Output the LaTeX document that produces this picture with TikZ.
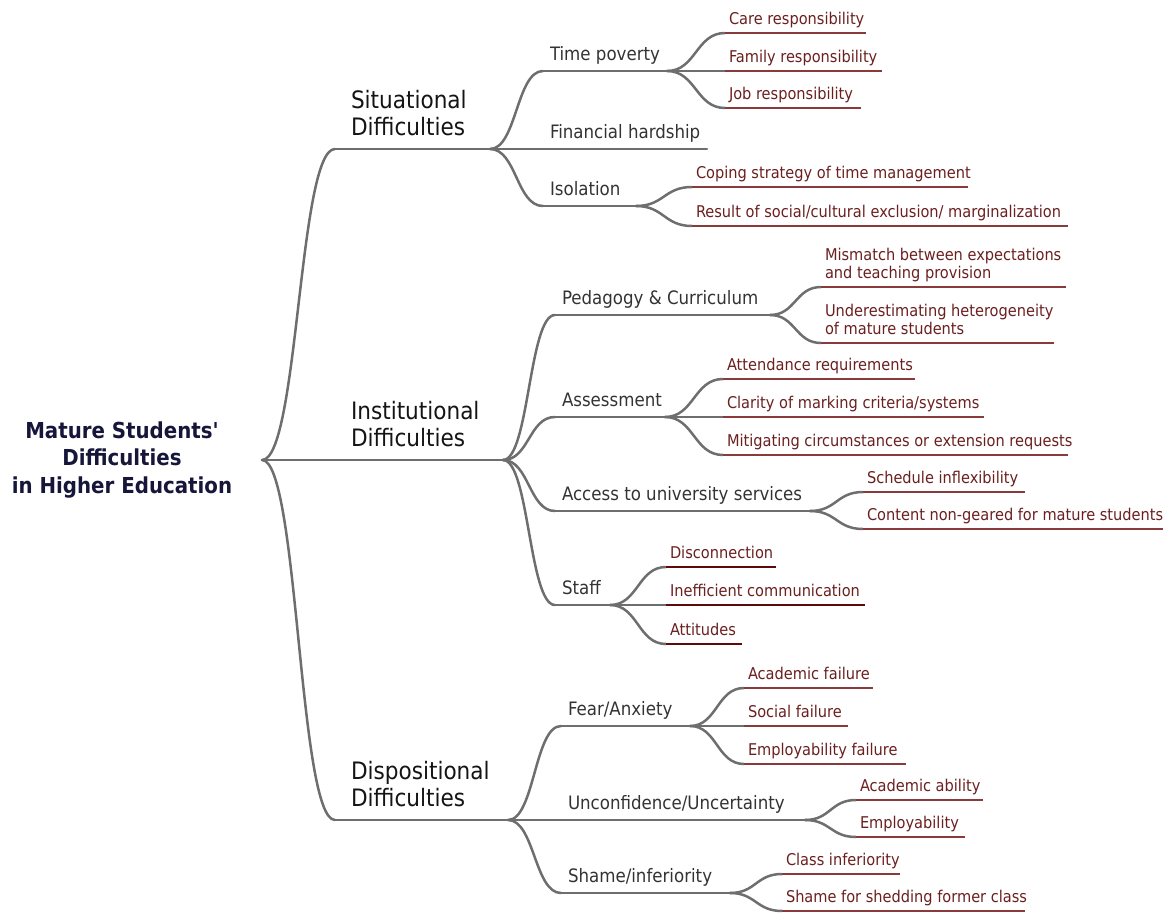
\documentclass[tikz,border=0pt]{standalone}
\usepackage{fontspec}
\setmainfont{DejaVu Sans Condensed}
\usetikzlibrary{calc}
\definecolor{linegray}{HTML}{6E6E6E}
\definecolor{leafred}{HTML}{6B1F1F}
\definecolor{ulred}{HTML}{8A3A3A}
\definecolor{staffred}{HTML}{5C0A0A}
\definecolor{roottext}{HTML}{16163A}
\definecolor{subtext}{HTML}{333333}
\definecolor{maintext}{HTML}{141414}
\tikzset{
  topicbase/.style={anchor=south west, inner xsep=0pt, text depth=4pt, outer sep=0pt},
  leaf/.style={topicbase, inner ysep=5pt, font=\fontsize{16.2}{18}\selectfont, text=leafred},
  sub/.style={topicbase, inner ysep=7pt, font=\fontsize{18.5}{21}\selectfont, text=subtext},
  mainb/.style={topicbase, inner ysep=9pt, text depth=5pt, font=\fontsize{24}{27}\selectfont, text=maintext},
  rootn/.style={align=center, font=\bfseries\fontsize{22}{27.5}\selectfont, text=roottext, inner sep=0pt},
  conn/.style={draw=linegray, line width=2.5pt, line cap=round},
  ulgray/.style={draw=linegray, line width=2.5pt, line cap=round},
  ulleaf/.style={draw=ulred, line width=1.2pt},
  ulstaff/.style={draw=staffred, line width=2.7pt},
}
% style, name, x start, x end, y, left pad, text
\newcommand\topic[7]{%
  \pgfmathsetmacro\tw{#4-#3}%
  \node[#1] (#2) at (#3,#5) {\makebox[\tw pt][l]{\hspace*{#6pt}#7}};%
}
\newcommand\twol[2]{\begin{tabular}[b]{@{}l@{}}#1\\#2\end{tabular}}
\newcommand\link[2]{\draw[conn] let \p1=(#1), \p2=(#2) in
  (\p1) .. controls (\x1/2+\x2/2,\y1) and (\x1/2+\x2/2,\y2) .. (\p2);}
\newcommand\uline[2]{\draw[#1] (#2.south west) -- (#2.south east);}
\begin{document}
\begin{tikzpicture}[x=1pt,y=-1pt]
\useasboundingbox (0,0) rectangle (1168,913);
% root
\node[rootn] (root) at (122,460) {Mature Students\textquotesingle\\Difficulties\\in Higher Education};
\coordinate (rootc) at (262,460);
% main branches
\topic{mainb}{S}{335}{490}{149}{16}{\twol{Situational}{Difficulties}}
\topic{mainb}{I}{335}{503}{460}{16}{\twol{Institutional}{Difficulties}}
\topic{mainb}{D}{335}{508}{820}{16}{\twol{Dispositional}{Difficulties}}
% situational
\topic{sub}{TP}{543}{667}{71}{7}{Time poverty}
\topic{sub}{FH}{543}{707}{149}{7}{Financial hardship}
\topic{sub}{Iso}{543}{636}{206}{7}{Isolation}
\topic{leaf}{Care}{725}{866}{33}{4}{Care responsibility}
\topic{leaf}{Fam}{725}{882}{71}{4}{Family responsibility}
\topic{leaf}{Job}{725}{861}{108}{4}{Job responsibility}
\topic{leaf}{Cop}{692}{968}{187}{4}{Coping strategy of time management}
\topic{leaf}{Res}{692}{1068}{226}{4}{Result of social/cultural exclusion/ marginalization}
% institutional
\topic{sub}{Ped}{555}{770}{315}{7}{Pedagogy \& Curriculum}
\topic{sub}{Ass}{555}{665}{417}{7}{Assessment}
\topic{sub}{Acc}{555}{810}{511}{7}{Access to university services}
\topic{sub}{Stf}{555}{610}{605}{7}{Staff}
\topic{leaf}{Mis}{821}{1066}{287}{4}{\twol{Mismatch between expectations}{and teaching provision}}
\topic{leaf}{Und}{821}{1054}{343}{4}{\twol{Underestimating heterogeneity}{of mature students}}
\topic{leaf}{Att}{723}{915}{379}{4}{Attendance requirements}
\topic{leaf}{Cla}{723}{984}{417}{4}{Clarity of marking criteria/systems}
\topic{leaf}{Mit}{723}{1068}{455}{4}{Mitigating circumstances or extension requests}
\topic{leaf}{Sch}{863}{1025}{492}{4}{Schedule inflexibility}
\topic{leaf}{Con}{863}{1163}{529}{4}{Content non-geared for mature students}
\topic{leaf}{Dis}{666}{776}{567}{4}{Disconnection}
\topic{leaf}{Ine}{666}{865}{605}{4}{Inefficient communication}
\topic{leaf}{Atd}{666}{742}{644}{4}{Attitudes}
% dispositional
\topic{sub}{Fea}{561}{690}{726}{7}{Fear/Anxiety}
\topic{sub}{Unc}{561}{805}{820}{7}{Unconfidence/Uncertainty}
\topic{sub}{Sha}{561}{730}{893}{7}{Shame/inferiority}
\topic{leaf}{AcF}{744}{873}{688}{4}{Academic failure}
\topic{leaf}{SoF}{744}{848}{726}{4}{Social failure}
\topic{leaf}{EmF}{744}{906}{764}{4}{Employability failure}
\topic{leaf}{AcA}{856}{983}{800}{4}{Academic ability}
\topic{leaf}{Emp}{856}{965}{837}{4}{Employability}
\topic{leaf}{Cls}{782}{900}{874}{4}{Class inferiority}
\topic{leaf}{She}{782}{1025}{911}{4}{Shame for shedding former class}
% connectors
\link{rootc}{S.south west}
\link{rootc}{I.south west}
\link{rootc}{D.south west}
\link{S.south east}{TP.south west}
\link{S.south east}{FH.south west}
\link{S.south east}{Iso.south west}
\link{TP.south east}{Care.south west}
\link{TP.south east}{Fam.south west}
\link{TP.south east}{Job.south west}
\link{Iso.south east}{Cop.south west}
\link{Iso.south east}{Res.south west}
\link{I.south east}{Ped.south west}
\link{I.south east}{Ass.south west}
\link{I.south east}{Acc.south west}
\link{I.south east}{Stf.south west}
\link{Ped.south east}{Mis.south west}
\link{Ped.south east}{Und.south west}
\link{Ass.south east}{Att.south west}
\link{Ass.south east}{Cla.south west}
\link{Ass.south east}{Mit.south west}
\link{Acc.south east}{Sch.south west}
\link{Acc.south east}{Con.south west}
\link{Stf.south east}{Dis.south west}
\link{Stf.south east}{Ine.south west}
\link{Stf.south east}{Atd.south west}
\link{D.south east}{Fea.south west}
\link{D.south east}{Unc.south west}
\link{D.south east}{Sha.south west}
\link{Fea.south east}{AcF.south west}
\link{Fea.south east}{SoF.south west}
\link{Fea.south east}{EmF.south west}
\link{Unc.south east}{AcA.south west}
\link{Unc.south east}{Emp.south west}
\link{Sha.south east}{Cls.south west}
\link{Sha.south east}{She.south west}
% underlines
\foreach \n in {S,I,D,TP,FH,Iso,Ped,Ass,Acc,Stf,Fea,Unc,Sha} {\uline{ulgray}{\n}}
\foreach \n in {Care,Fam,Job,Cop,Res,Mis,Und,Att,Cla,Mit,Sch,Con,AcF,SoF,EmF,AcA,Emp,Cls,She} {\uline{ulleaf}{\n}}
\foreach \n in {Dis,Ine,Atd} {\uline{ulstaff}{\n}}
\end{tikzpicture}
\end{document}
